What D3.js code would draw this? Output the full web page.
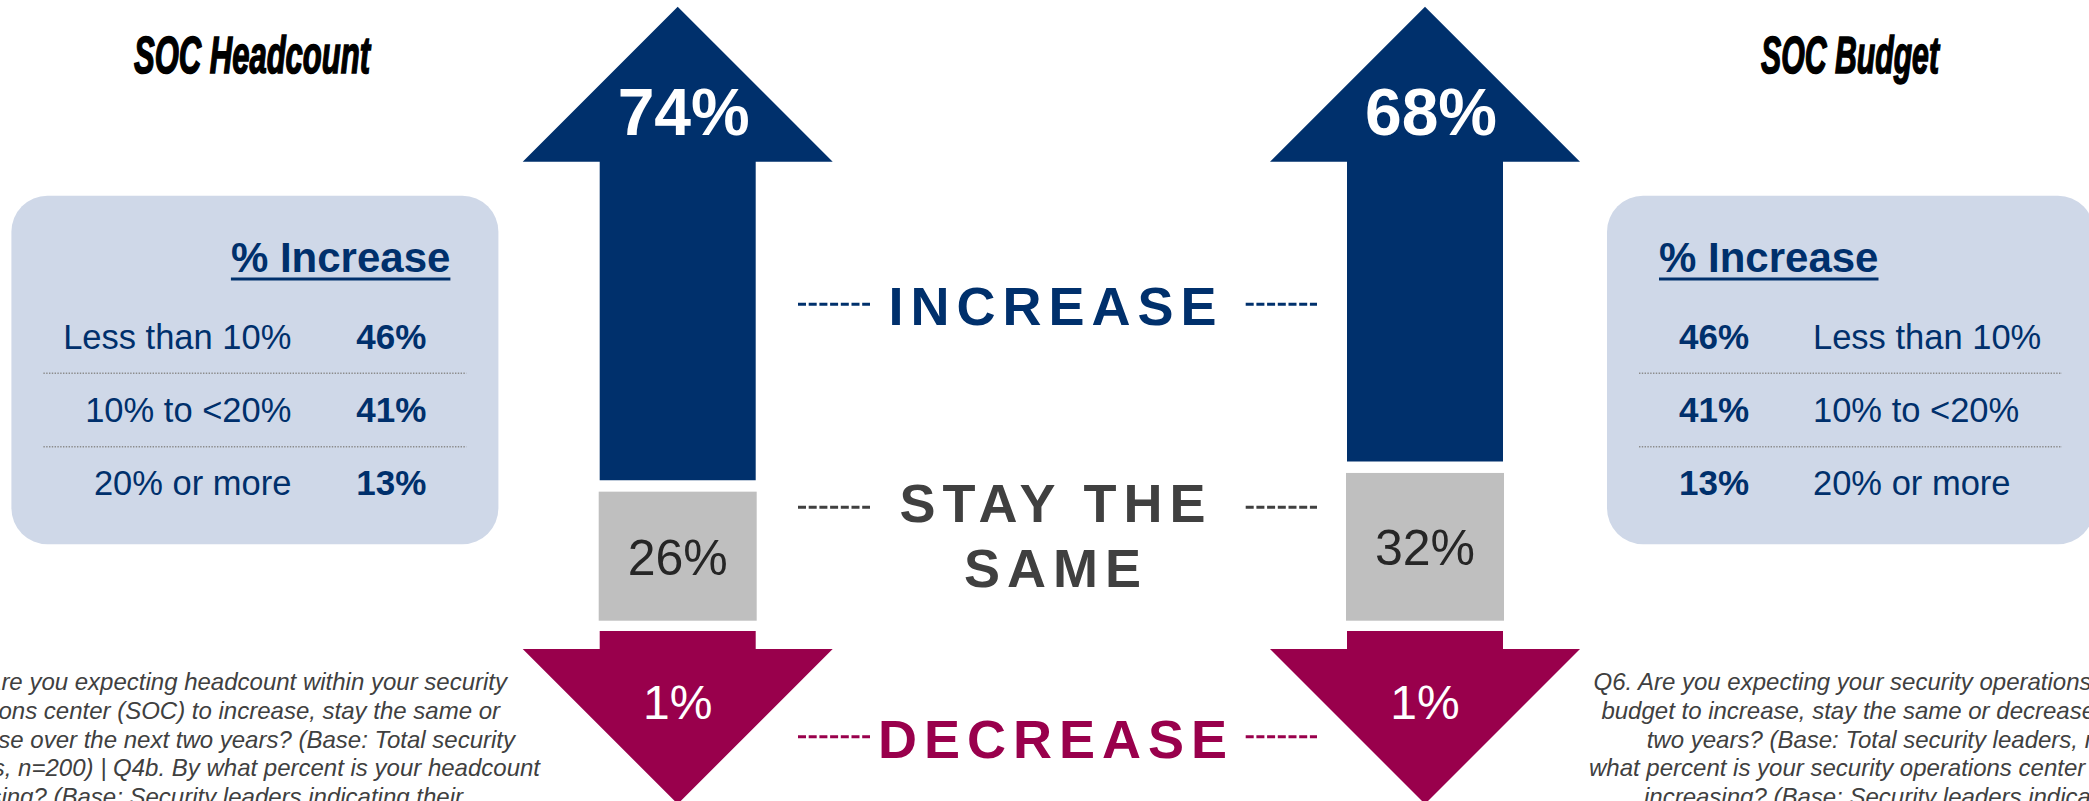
<!DOCTYPE html>
<meta charset="utf-8">

<style type="text/css">
  body { margin: 0; background: #fff; }
  svg { display: block; }
  .big { font-family: "Liberation Sans", Arial, sans-serif; }
  .title { font-family: "Liberation Sans Narrow", "Liberation Sans", sans-serif; font-weight: bold; font-style: italic; stroke: #000; stroke-width: 1.6px; }
  .note { font-family: "Liberation Sans", Arial, sans-serif; font-style: italic; font-size: 24px; fill: #404040; }
</style>

<body>
</body>

<script src="https://d3js.org/d3.v7.min.js"></script>

<script>
// chart values
var metrics = ["SOC Headcount", "SOC Budget"];
var increase = [74, 68];
var stay = [26, 32];
var decrease = [1, 1];
var outcomes = ["INCREASE", "STAY THE SAME", "DECREASE"];
var bands = ["Less than 10%", "10% to <20%", "20% or more"];
var headcountBands = [46, 41, 13];
var budgetBands = [46, 41, 13];
var headcountNote = [
  "Q4. Are you expecting headcount within your security",
  "operations center (SOC) to increase, stay the same or",
  "decrease over the next two years? (Base: Total security",
  "leaders, n=200) | Q4b. By what percent is your headcount",
  "increasing? (Base: Security leaders indicating their"
];
var budgetNote = [
  "Q6. Are you expecting your security operations center (SOC)",
  "budget to increase, stay the same or decrease over the next",
  "two years? (Base: Total security leaders, n=200) | Q6b. By",
  "what percent is your security operations center (SOC) budget",
  "increasing? (Base: Security leaders indicating their SOC budget"
];

var width = 2089, height = 801;
var navy = "#00306c", berry = "#99004c", grey = "#bfbfbf", dark = "#404040";

var svg = d3.select("body").append("svg")
    .attr("width", width)
    .attr("height", height);

// one arrow column per metric
var xArrow = d3.scalePoint().domain(metrics).range([677.7, 1425]);

// height of the grey "stay the same" block
var stayHeight = d3.scaleLinear().domain([0, 100]).range([48, 359.7]);

var headHalf = 155, shaftHalf = 78;
var arrowTop = 6.7, headBase = 161.7, greyBottom = 620.7, gap = 11.5;
var downTop = 631, downHead = 649, downTip = 804;

function upArrow(cx, bottom) {
  var p = d3.path();
  p.moveTo(cx, arrowTop);
  p.lineTo(cx + headHalf, headBase);
  p.lineTo(cx + shaftHalf, headBase);
  p.lineTo(cx + shaftHalf, bottom);
  p.lineTo(cx - shaftHalf, bottom);
  p.lineTo(cx - shaftHalf, headBase);
  p.lineTo(cx - headHalf, headBase);
  p.closePath();
  return p.toString();
}

function downArrow(cx) {
  var p = d3.path();
  p.moveTo(cx - shaftHalf, downTop);
  p.lineTo(cx + shaftHalf, downTop);
  p.lineTo(cx + shaftHalf, downHead);
  p.lineTo(cx + headHalf, downHead);
  p.lineTo(cx, downTip);
  p.lineTo(cx - headHalf, downHead);
  p.lineTo(cx - shaftHalf, downHead);
  p.closePath();
  return p.toString();
}

var rows = metrics.map(function(m, i) {
  return {metric: m, up: increase[i], same: stay[i], down: decrease[i]};
});

var gArrows = svg.append("g").attr("id", "arrows");

rows.forEach(function(d) {
  var cx = xArrow(d.metric);
  var greyTop = greyBottom - stayHeight(d.same);

  gArrows.append("path")
    .attr("d", upArrow(cx, greyTop - gap))
    .attr("fill", navy);

  gArrows.append("text")
    .attr("class", "big")
    .attr("x", cx + 6)
    .attr("y", 135)
    .attr("text-anchor", "middle")
    .attr("font-size", 66)
    .attr("font-weight", "bold")
    .attr("fill", "#fff")
    .text(d.up + "%");

  gArrows.append("rect")
    .attr("x", cx - 79)
    .attr("y", greyTop)
    .attr("width", 158)
    .attr("height", greyBottom - greyTop)
    .attr("fill", grey);

  gArrows.append("text")
    .attr("class", "big")
    .attr("x", cx)
    .attr("y", (greyTop + greyBottom) / 2 + 18.5)
    .attr("text-anchor", "middle")
    .attr("font-size", 50)
    .attr("fill", "#262626")
    .text(d.same + "%");

  gArrows.append("path")
    .attr("d", downArrow(cx))
    .attr("fill", berry);

  gArrows.append("text")
    .attr("class", "big")
    .attr("x", cx)
    .attr("y", 719.3)
    .attr("text-anchor", "middle")
    .attr("font-size", 48)
    .attr("fill", "#fff")
    .text(d.down + "%");
});

// outcome labels in the middle, with dashed leaders either side
var midX = 1056;
var labelY = {"INCREASE": [325], "STAY THE SAME": [522.3, 586.7], "DECREASE": [758.3]};
var lineY = {"INCREASE": 304.3, "STAY THE SAME": 507.3, "DECREASE": 736.7};
var labelColor = {"INCREASE": navy, "STAY THE SAME": dark, "DECREASE": berry};

var gMid = svg.append("g").attr("id", "outcomes");

outcomes.forEach(function(o) {
  var parts = o == "STAY THE SAME" ? ["STAY THE", "SAME"] : [o];
  parts.forEach(function(t, j) {
    gMid.append("text")
      .attr("class", "big")
      .attr("x", midX)
      .attr("y", labelY[o][j])
      .attr("text-anchor", "middle")
      .attr("font-size", 54)
      .attr("font-weight", "bold")
      .attr("letter-spacing", 7)
      .attr("fill", labelColor[o])
      .text(t);
  });
  [[798, 870], [1245.7, 1317]].forEach(function(seg) {
    gMid.append("line")
      .attr("x1", seg[0]).attr("x2", seg[1])
      .attr("y1", lineY[o]).attr("y2", lineY[o])
      .attr("stroke", labelColor[o])
      .attr("stroke-width", 3)
      .attr("stroke-dasharray", "8,2.7");
  });
});

// titles
svg.append("text")
  .attr("class", "title")
  .attr("x", 134).attr("y", 73)
  .attr("font-size", 51)
  .attr("textLength", 236)
  .attr("lengthAdjust", "spacingAndGlyphs")
  .attr("fill", "#000")
  .text(metrics[0]);

svg.append("text")
  .attr("class", "title")
  .attr("x", 1761).attr("y", 73)
  .attr("font-size", 51)
  .attr("textLength", 178)
  .attr("lengthAdjust", "spacingAndGlyphs")
  .attr("fill", "#000")
  .text(metrics[1]);

// "% Increase" breakdown boxes
var yRow = d3.scalePoint().domain(bands).range([349.3, 495]);

function breakdown(x0, values, mirror) {
  var g = svg.append("g");
  g.append("rect")
    .attr("x", x0).attr("y", 195.7)
    .attr("width", 487).attr("height", 348.6)
    .attr("rx", 36).attr("ry", 36)
    .attr("fill", "#cfd8e8");

  var head = g.append("text")
    .attr("class", "big")
    .attr("x", mirror ? x0 + 52 : x0 + 439)
    .attr("y", 271.7)
    .attr("text-anchor", mirror ? "start" : "end")
    .attr("font-size", 42)
    .attr("font-weight", "bold")
    .attr("fill", navy)
    .text("% Increase");
  var bb = head.node().getBBox();
  g.append("line")
    .attr("x1", bb.x).attr("x2", bb.x + bb.width)
    .attr("y1", 279).attr("y2", 279)
    .attr("stroke", navy).attr("stroke-width", 3);

  [373.3, 446.7].forEach(function(y) {
    g.append("line")
      .attr("x1", x0 + 32)
      .attr("x2", x0 + 455)
      .attr("y1", y).attr("y2", y)
      .attr("stroke", "#8c8c8c")
      .attr("stroke-width", 1.5)
      .attr("stroke-dasharray", "1.4,1.4");
  });

  bands.forEach(function(b, i) {
    g.append("text")
      .attr("class", "big")
      .attr("x", mirror ? x0 + 206 : x0 + 280)
      .attr("y", yRow(b))
      .attr("text-anchor", mirror ? "start" : "end")
      .attr("font-size", 34.5)
      .attr("fill", navy)
      .text(b);
    g.append("text")
      .attr("class", "big")
      .attr("x", mirror ? x0 + 72 : x0 + 415)
      .attr("y", yRow(b))
      .attr("text-anchor", mirror ? "start" : "end")
      .attr("font-size", 35)
      .attr("font-weight", "bold")
      .attr("fill", navy)
      .text(values[i] + "%");
  });
}

breakdown(11.4, headcountBands, false);
breakdown(1607, budgetBands, true);

// question footnotes (run off the page edges as in the source slide)
var noteY = [690, 719, 747.5, 776, 805];
var leftEnds = [507, 500, 515, 540, 463];
var rightStarts = [1593.5, 1601.4, 1646.7, 1589, 1644];

headcountNote.forEach(function(t, i) {
  svg.append("text").attr("class", "note")
    .attr("x", leftEnds[i]).attr("y", noteY[i])
    .attr("text-anchor", "end")
    .text(t);
});

budgetNote.forEach(function(t, i) {
  svg.append("text").attr("class", "note")
    .attr("x", rightStarts[i]).attr("y", noteY[i])
    .text(t);
});
</script>
